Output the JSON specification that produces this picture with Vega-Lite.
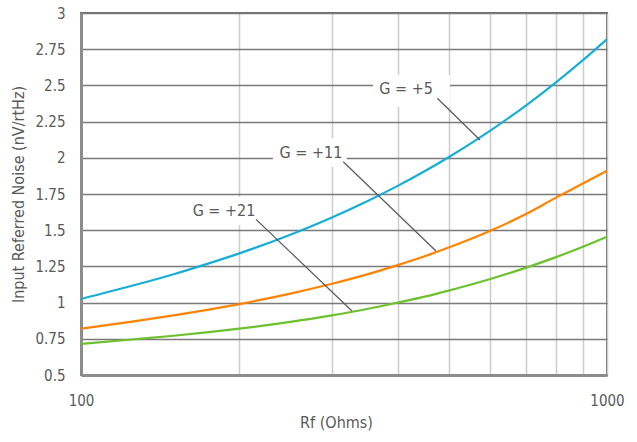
{
  "$schema": "https://vega.github.io/schema/vega-lite/v6.json",
  "width": 526,
  "height": 362,
  "autosize": "none",
  "padding": {"left": 81, "top": 13, "right": 30, "bottom": 67},
  "config": {
    "font": "DejaVu Sans Condensed",
    "view": {"stroke": "#6e6e6e", "strokeWidth": 2},
    "axis": {"labelColor": "#595959", "titleColor": "#595959", "labelFont": "DejaVu Sans Condensed", "titleFont": "DejaVu Sans Condensed", "titleFontWeight": "normal",
      "ticks": false, "labelOverlap": false, "labelFlush": false, "grid": true, "domainColor": "#8c8c8c", "domainWidth": 3, "labelFontSize": 15, "titleFontSize": 16},
    "axisX": {"gridColor": "#cccccc", "gridWidth": 1.5, "labelPadding": 18, "titlePadding": 6, "titleX": 255},
    "axisY": {"gridColor": "#7a7a7a", "gridWidth": 1.5, "labelPadding": 16, "titlePadding": 8}
  },
  "datasets": {
    "curves": [
      {"Rf": 100, "noise": 1.025, "G": "G = +5"},
      {"Rf": 125, "noise": 1.116, "G": "G = +5"},
      {"Rf": 150, "noise": 1.196, "G": "G = +5"},
      {"Rf": 175, "noise": 1.271, "G": "G = +5"},
      {"Rf": 200, "noise": 1.340, "G": "G = +5"},
      {"Rf": 250, "noise": 1.469, "G": "G = +5"},
      {"Rf": 300, "noise": 1.588, "G": "G = +5"},
      {"Rf": 350, "noise": 1.700, "G": "G = +5"},
      {"Rf": 400, "noise": 1.806, "G": "G = +5"},
      {"Rf": 450, "noise": 1.907, "G": "G = +5"},
      {"Rf": 500, "noise": 2.004, "G": "G = +5"},
      {"Rf": 600, "noise": 2.188, "G": "G = +5"},
      {"Rf": 700, "noise": 2.359, "G": "G = +5"},
      {"Rf": 800, "noise": 2.521, "G": "G = +5"},
      {"Rf": 900, "noise": 2.674, "G": "G = +5"},
      {"Rf": 1000, "noise": 2.82, "G": "G = +5"},
      {"Rf": 100, "noise": 0.82, "G": "G = +11"},
      {"Rf": 125, "noise": 0.869, "G": "G = +11"},
      {"Rf": 150, "noise": 0.912, "G": "G = +11"},
      {"Rf": 175, "noise": 0.952, "G": "G = +11"},
      {"Rf": 200, "noise": 0.99, "G": "G = +11"},
      {"Rf": 250, "noise": 1.062, "G": "G = +11"},
      {"Rf": 300, "noise": 1.130, "G": "G = +11"},
      {"Rf": 350, "noise": 1.195, "G": "G = +11"},
      {"Rf": 400, "noise": 1.259, "G": "G = +11"},
      {"Rf": 450, "noise": 1.320, "G": "G = +11"},
      {"Rf": 500, "noise": 1.380, "G": "G = +11"},
      {"Rf": 600, "noise": 1.496, "G": "G = +11"},
      {"Rf": 700, "noise": 1.610, "G": "G = +11"},
      {"Rf": 800, "noise": 1.725, "G": "G = +11"},
      {"Rf": 900, "noise": 1.822, "G": "G = +11"},
      {"Rf": 1000, "noise": 1.91, "G": "G = +11"},
      {"Rf": 100, "noise": 0.715, "G": "G = +21"},
      {"Rf": 125, "noise": 0.745, "G": "G = +21"},
      {"Rf": 150, "noise": 0.771, "G": "G = +21"},
      {"Rf": 175, "noise": 0.796, "G": "G = +21"},
      {"Rf": 200, "noise": 0.82, "G": "G = +21"},
      {"Rf": 250, "noise": 0.867, "G": "G = +21"},
      {"Rf": 300, "noise": 0.912, "G": "G = +21"},
      {"Rf": 350, "noise": 0.956, "G": "G = +21"},
      {"Rf": 400, "noise": 1.0, "G": "G = +21"},
      {"Rf": 450, "noise": 1.041, "G": "G = +21"},
      {"Rf": 500, "noise": 1.083, "G": "G = +21"},
      {"Rf": 600, "noise": 1.163, "G": "G = +21"},
      {"Rf": 700, "noise": 1.240, "G": "G = +21"},
      {"Rf": 800, "noise": 1.314, "G": "G = +21"},
      {"Rf": 900, "noise": 1.386, "G": "G = +21"},
      {"Rf": 1000, "noise": 1.455, "G": "G = +21"}
    ],
    "notes": [
      {"G": "G = +5", "tx": 415, "ty": 2.473, "bx": 359, "bx2": 503, "by": 2.572, "by2": 2.351, "lx": 475.7, "ly": 2.411, "lx2": 573.6, "ly2": 2.123},
      {"G": "G = +11", "tx": 273.6, "ty": 2.035, "bx": 231.7, "bx2": 320, "by": 2.137, "by2": 1.936, "lx": 315.2, "ly": 1.973, "lx2": 473, "ly2": 1.356},
      {"G": "G = +21", "tx": 187, "ty": 1.633, "bx": 158.3, "bx2": 222, "by": 1.729, "by2": 1.536, "lx": 215.1, "ly": 1.575, "lx2": 327.2, "ly2": 0.944}
    ]
  },
  "layer": [
    {
      "data": {"name": "curves"},
      "mark": {"type": "line", "interpolate": "monotone", "strokeWidth": 2.2},
      "encoding": {
        "x": {
          "field": "Rf", "type": "quantitative",
          "scale": {"type": "log", "domain": [100, 1000], "nice": false},
          "axis": {
            "title": "Rf (Ohms)",
            "values": [100, 200, 300, 400, 500, 600, 700, 800, 900, 1000],
            "labelExpr": "(datum.value == 100 || datum.value == 1000) ? format(datum.value, 'd') : ''"
          }
        },
        "y": {
          "field": "noise", "type": "quantitative",
          "scale": {"domain": [0.5, 3], "nice": false},
          "axis": {
            "title": "Input Referred Noise (nV/rtHz)",
            "values": [0.5, 0.75, 1, 1.25, 1.5, 1.75, 2, 2.25, 2.5, 2.75, 3],
            "labelExpr": "datum.value + ''"
          }
        },
        "color": {
          "field": "G", "type": "nominal",
          "scale": {"domain": ["G = +5", "G = +11", "G = +21"], "range": ["#17aed6", "#ff8200", "#6cc12c"]},
          "legend": null
        },
        "detail": {"field": "G"}
      }
    },
    {
      "data": {"name": "notes"},
      "mark": {"type": "rect", "fill": "white"},
      "encoding": {
        "x": {"field": "bx", "type": "quantitative", "axis": {"title": "Rf (Ohms)", "values": [100, 200, 300, 400, 500, 600, 700, 800, 900, 1000], "labelExpr": "(datum.value == 100 || datum.value == 1000) ? format(datum.value, 'd') : ''"}},
        "x2": {"field": "bx2"},
        "y": {"field": "by", "type": "quantitative", "axis": {"title": "Input Referred Noise (nV/rtHz)", "values": [0.5, 0.75, 1, 1.25, 1.5, 1.75, 2, 2.25, 2.5, 2.75, 3], "labelExpr": "datum.value + ''"}},
        "y2": {"field": "by2"}
      }
    },
    {
      "data": {"name": "notes"},
      "mark": {"type": "rule", "color": "#595959", "strokeWidth": 1.2},
      "encoding": {
        "x": {"field": "lx", "type": "quantitative", "axis": {"title": "Rf (Ohms)", "values": [100, 200, 300, 400, 500, 600, 700, 800, 900, 1000], "labelExpr": "(datum.value == 100 || datum.value == 1000) ? format(datum.value, 'd') : ''"}},
        "x2": {"field": "lx2"},
        "y": {"field": "ly", "type": "quantitative", "axis": {"title": "Input Referred Noise (nV/rtHz)", "values": [0.5, 0.75, 1, 1.25, 1.5, 1.75, 2, 2.25, 2.5, 2.75, 3], "labelExpr": "datum.value + ''"}},
        "y2": {"field": "ly2"}
      }
    },
    {
      "data": {"name": "notes"},
      "mark": {"type": "text", "fontSize": 16, "color": "#595959", "align": "center", "baseline": "middle", "font": "DejaVu Sans Condensed"},
      "encoding": {
        "x": {"field": "tx", "type": "quantitative", "axis": {"title": "Rf (Ohms)", "values": [100, 200, 300, 400, 500, 600, 700, 800, 900, 1000], "labelExpr": "(datum.value == 100 || datum.value == 1000) ? format(datum.value, 'd') : ''"}},
        "y": {"field": "ty", "type": "quantitative", "axis": {"title": "Input Referred Noise (nV/rtHz)", "values": [0.5, 0.75, 1, 1.25, 1.5, 1.75, 2, 2.25, 2.5, 2.75, 3], "labelExpr": "datum.value + ''"}},
        "text": {"field": "G"}
      }
    }
  ]
}
